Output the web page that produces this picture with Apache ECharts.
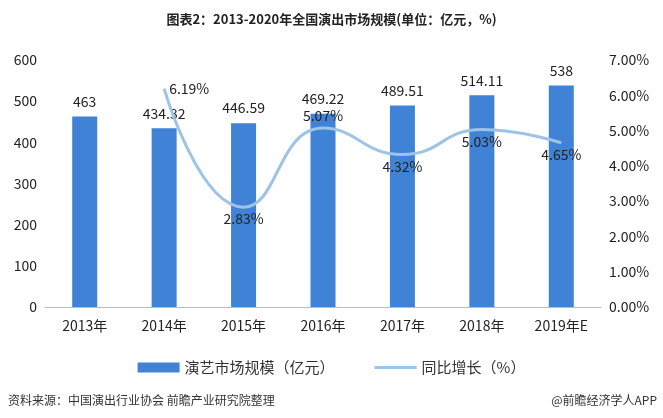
<!DOCTYPE html>
<html>
<head>
<meta charset="utf-8">
<script src="https://cdn.jsdelivr.net/npm/echarts@6/dist/echarts.min.js"></script>
<style>
html,body{margin:0;padding:0;background:#fff}
#main{width:663px;height:418px}
</style>
</head>
<body>
<div id="main"></div>
<script>
const years = ['2013年', '2014年', '2015年', '2016年', '2017年', '2018年', '2019年E']
const marketSize = [463, 434.32, 446.59, 469.22, 489.51, 514.11, 538]
const growth = [null, 6.19, 2.83, 5.07, 4.32, 5.03, 4.65]
const labelPos = [null, 'right', 'bottom', 'top', 'bottom', 'bottom', 'bottom']

const myCharts = echarts.init(document.getElementById('main'))

const font = '"Noto Sans CJK SC", sans-serif'

let option = {
	textStyle: { fontFamily: font },
	title: {
		text: '图表2：2013-2020年全国演出市场规模(单位：亿元，%)',
		left: 'center',
		top: 8,
		textStyle: { fontSize: 13, fontWeight: 'bold', color: '#222', fontFamily: font }
	},
	legend: {
		bottom: 38,
		itemWidth: 42,
		itemHeight: 10,
		itemGap: 40,
		textStyle: { fontSize: 15, color: '#333' },
		data: [
			{ name: '演艺市场规模（亿元）', icon: 'rect' },
			{ name: '同比增长（%）', icon: 'path://M0,0 L40,0 L40,3 L0,3 Z', itemStyle: { color: '#9dc3e6' } }
		]
	},
	grid: { left: 45, right: 62, top: 60, bottom: 111 },
	xAxis: {
		type: 'category',
		data: years,
		axisTick: { show: false },
		axisLine: { lineStyle: { color: '#bbb' } },
		axisLabel: { fontSize: 14, color: '#222', margin: 12 }
	},
	yAxis: [{
		type: 'value', min: 0, max: 600, interval: 100,
		splitLine: { show: false },
		axisLabel: { fontSize: 14, color: '#222' }
	}, {
		type: 'value', min: 0, max: 7, interval: 1,
		splitLine: { show: false },
		axisLabel: { fontSize: 14, color: '#222', formatter: v => v.toFixed(2) + '%' }
	}],
	series: [{
		name: '演艺市场规模（亿元）',
		type: 'bar',
		data: marketSize,
		barWidth: 25,
		itemStyle: { color: '#3f82d6' },
		label: { show: true, position: 'top', fontSize: 14, color: '#222', distance: 8 }
	}, {
		name: '同比增长（%）',
		type: 'line',
		yAxisIndex: 1,
		smooth: 0.5,
		symbol: 'circle',
		symbolSize: 0,
		lineStyle: { color: '#9dc3e6', width: 3 },
		itemStyle: { color: '#9dc3e6' },
		data: growth.map((v, i) => ({
			value: v,
			label: { show: v !== null, position: labelPos[i], fontSize: 14, color: '#222', formatter: p => p.value.toFixed(2) + '%' }
		}))
	}],
	graphic: [{
		type: 'text', left: 8, bottom: 12,
		style: { text: '资料来源：中国演出行业协会 前瞻产业研究院整理', fontSize: 12, fill: '#333', fontFamily: font }
	}, {
		type: 'text', right: 6, bottom: 12,
		style: { text: '@前瞻经济学人APP', fontSize: 12, fill: '#333', fontFamily: font }
	}]
}

myCharts.setOption(option)
</script>
</body>
</html>
